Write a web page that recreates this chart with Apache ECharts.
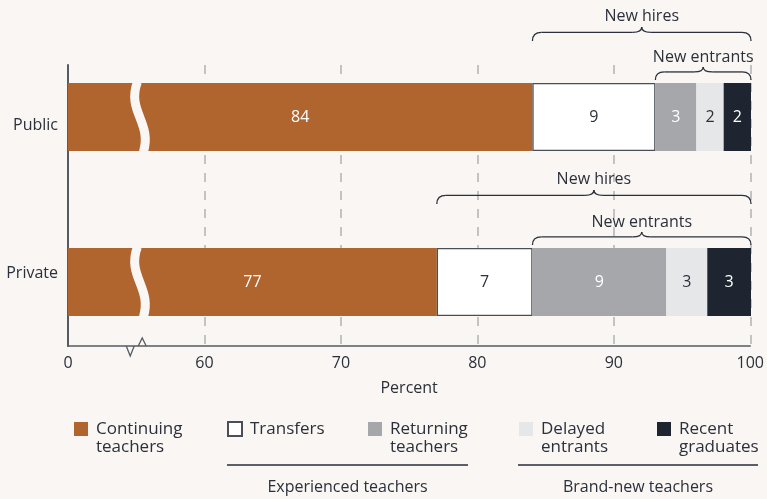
<!DOCTYPE html>
<html>
<head>
<meta charset="utf-8">
<script src="https://cdn.jsdelivr.net/npm/echarts@6/dist/echarts.min.js"></script>
<style>
  html, body { margin: 0; padding: 0; background: #f9f6f3; }
  #chart { width: 767px; height: 499px; }
</style>
</head>
<body>
<div id="chart"></div>
<script>
// shares of teachers (percent); labels in the figure are truncated values
const categories = ["Public", "Private"];
const continuing = [84, 77];
const transfers = [9, 7];
const returning = [3, 9.8];
const delayed = [2, 3];
const recent = [2, 3.2];
const tickValues = [0, 60, 70, 80, 90, 100];

// axis is broken between 0 and 60: the 0 tick sits one interval left of 60
const axisMin = 50;
const axisMax = 100;
const breakAt = 55.3;

const BG = "#f9f6f3";
const TEXT = "#2b303b";
const FONT = "Open Sans";

const chart = echarts.init(document.getElementById("chart"));

const labelStyle = (color) => ({
  show: true,
  position: "inside",
  color: color,
  fontSize: 16,
  fontFamily: FONT,
  formatter: (p) => String(Math.floor(p.value)),
});

const mkSeries = (name, data, color, labelColor, border) => ({
  name: name,
  type: "bar",
  stack: "total",
  xAxisIndex: 0,
  yAxisIndex: 0,
  barWidth: 68,
  data: data,
  itemStyle: {
    color: color,
    borderColor: border || color,
    borderWidth: border ? 1.2 : 0,
  },
  label: labelStyle(labelColor),
  emphasis: { disabled: true },
});

// two-word names wrap; a blank first line keeps the icon beside the first word
const mkLegend = (name, left) => {
  const twoLines = name.indexOf(" ") > 0;
  return {
    data: [name],
    left: left,
    top: twoLines ? 402 : 420,
    padding: 0,
    itemWidth: 14,
    itemHeight: 14,
    icon: "rect",
    selectedMode: false,
    formatter: (n) => (twoLines ? "\n" + n.replace(" ", "\n") : n),
    textStyle: {
      color: TEXT,
      fontSize: 17,
      fontFamily: FONT,
      lineHeight: 18,
      padding: [0, 0, 0, 3],
    },
  };
};

const option = {
  backgroundColor: BG,
  animation: false,
  grid: [
    { left: 68, right: 16, top: 34.5, bottom: 134.5 },
    { left: 68, right: 16, top: 65, bottom: 153 },
  ],
  xAxis: [
    { gridIndex: 0, type: "value", min: axisMin, max: axisMax, show: false },
    {
      gridIndex: 1,
      type: "value",
      min: axisMin,
      max: axisMax,
      interval: 10,
      name: "Percent",
      nameLocation: "middle",
      nameGap: 34,
      nameTextStyle: { color: TEXT, fontSize: 16, fontFamily: FONT },
      axisLine: { show: true, lineStyle: { color: "#555b63", width: 1.5 } },
      axisTick: { show: false },
      axisLabel: {
        color: TEXT,
        fontSize: 16,
        fontFamily: FONT,
        margin: 9,
        formatter: (v) => (v === axisMin ? String(tickValues[0]) : String(v)),
      },
      splitLine: {
        show: true,
        lineStyle: { color: "#c3c3c3", width: 2, type: [9, 9] },
      },
    },
  ],
  yAxis: [
    {
      gridIndex: 0,
      type: "category",
      inverse: true,
      data: categories,
      axisLine: { show: false },
      axisTick: { show: false },
      axisLabel: {
        color: TEXT,
        fontSize: 16,
        fontFamily: FONT,
        margin: 10,
        formatter: (v, i) => (i === 0 ? "{a|" + v + "}" : "{b|" + v + "}"),
        rich: {
          a: { fontSize: 16, fontFamily: FONT, color: TEXT, padding: [16, 0, 0, 0] },
          b: { fontSize: 16, fontFamily: FONT, color: TEXT, padding: [0, 0, 18, 0] },
        },
      },
    },
    {
      gridIndex: 1,
      type: "category",
      inverse: true,
      data: categories,
      axisLine: { show: true, lineStyle: { color: "#555b63", width: 2 } },
      axisTick: { show: false },
      axisLabel: { show: false },
      splitLine: { show: false },
    },
  ],
  legend: [
    mkLegend("Continuing teachers", 74),
    mkLegend("Transfers", 227),
    mkLegend("Returning teachers", 368),
    mkLegend("Delayed entrants", 519),
    mkLegend("Recent graduates", 657),
  ],
  series: [
    mkSeries("Continuing teachers", continuing, "#b0652f", "#ffffff"),
    mkSeries("Transfers", transfers, "#ffffff", TEXT, "#4a4f57"),
    mkSeries("Returning teachers", returning, "#a5a7aa", "#ffffff"),
    mkSeries("Delayed entrants", delayed, "#e6e7e9", TEXT),
    mkSeries("Recent graduates", recent, "#1e2530", "#ffffff"),
  ],
};

chart.setOption(option);

// decorations: braces, axis break marks, legend groupings
const toPx = (x, i) => chart.convertToPixel({ xAxisIndex: 0, yAxisIndex: 0 }, [x, i]);
const lineStyle = { fill: null, stroke: TEXT, lineWidth: 1.3 };

// curly brace opening downward, ends at yb, tip h above
function brace(x1, x2, yb, h) {
  const xm = (x1 + x2) / 2;
  const yf = yb - h * 0.62;
  const yt = yb - h;
  const q = 9;
  const curve = (ax, ay, cx, cy, bx, by) => ({
    type: "bezierCurve",
    shape: { x1: ax, y1: ay, cpx1: cx, cpy1: cy, x2: bx, y2: by },
    style: lineStyle,
  });
  const seg = (ax, ay, bx, by) => ({
    type: "line",
    shape: { x1: ax, y1: ay, x2: bx, y2: by },
    style: lineStyle,
  });
  return [
    curve(x1, yb, x1, yf, x1 + q, yf),
    seg(x1 + q, yf, xm - q, yf),
    curve(xm - q, yf, xm, yf, xm, yt),
    curve(xm, yt, xm, yf, xm + q, yf),
    seg(xm + q, yf, x2 - q, yf),
    curve(x2 - q, yf, x2, yf, x2, yb),
  ];
}

const braceText = (x, y, text) => ({
  type: "text",
  x: x,
  y: y,
  style: {
    text: text,
    fill: TEXT,
    fontSize: 16,
    fontFamily: FONT,
    align: "center",
    verticalAlign: "middle",
  },
});

let graphics = [];
categories.forEach((c, i) => {
  const center = toPx(axisMax, i)[1];
  const top = center - 34;
  const bottom = center + 34;
  const xEnd = toPx(axisMax, i)[0];
  const xHires = toPx(continuing[i], i)[0];
  const xEntr = toPx(continuing[i] + transfers[i], i)[0];

  graphics = graphics.concat(brace(xHires, xEnd, top - 42 - i * 2, 14));
  graphics.push(braceText((xHires + xEnd) / 2, top - 67 - i * 2, "New hires"));
  graphics = graphics.concat(brace(xEntr, xEnd, top - 3, 13));
  graphics.push(braceText((xEntr + xEnd) / 2, top - 26, "New entrants"));

  // white wave cutting the continuing bar
  const cx = toPx(breakAt, i)[0];
  graphics.push({
    type: "bezierCurve",
    z: 10,
    shape: {
      x1: cx - 3, y1: top - 1,
      cpx1: cx - 14, cpy1: top + 28,
      cpx2: cx + 12, cpy2: bottom - 28,
      x2: cx + 3, y2: bottom + 1,
    },
    style: { fill: null, stroke: BG, lineWidth: 9 },
  });
});

// break mark on the x axis
const axisY = 499 - 153;
const bx = chart.convertToPixel({ xAxisIndex: 1 }, 55);
graphics.push({
  type: "polyline",
  z: 11,
  shape: { points: [[bx - 10, axisY], [bx - 6, axisY + 10], [bx - 2, axisY]] },
  style: { fill: null, stroke: "#555b63", lineWidth: 1.3 },
});
graphics.push({
  type: "polyline",
  z: 11,
  shape: { points: [[bx + 2, axisY], [bx + 6, axisY - 8], [bx + 10, axisY]] },
  style: { fill: null, stroke: "#555b63", lineWidth: 1.3 },
});

// legend groupings
const groupLine = (x1, x2, label) => {
  graphics.push({
    type: "line",
    shape: { x1: x1, y1: 465, x2: x2, y2: 465 },
    style: { stroke: "#5b6068", lineWidth: 2 },
  });
  graphics.push({
    type: "text",
    x: (x1 + x2) / 2,
    y: 487,
    style: {
      text: label,
      fill: TEXT,
      fontSize: 16,
      fontFamily: FONT,
      align: "center",
      verticalAlign: "middle",
    },
  });
};
groupLine(227, 468, "Experienced teachers");
groupLine(518, 758, "Brand-new teachers");

chart.setOption({ graphic: graphics });
</script>
</body>
</html>
